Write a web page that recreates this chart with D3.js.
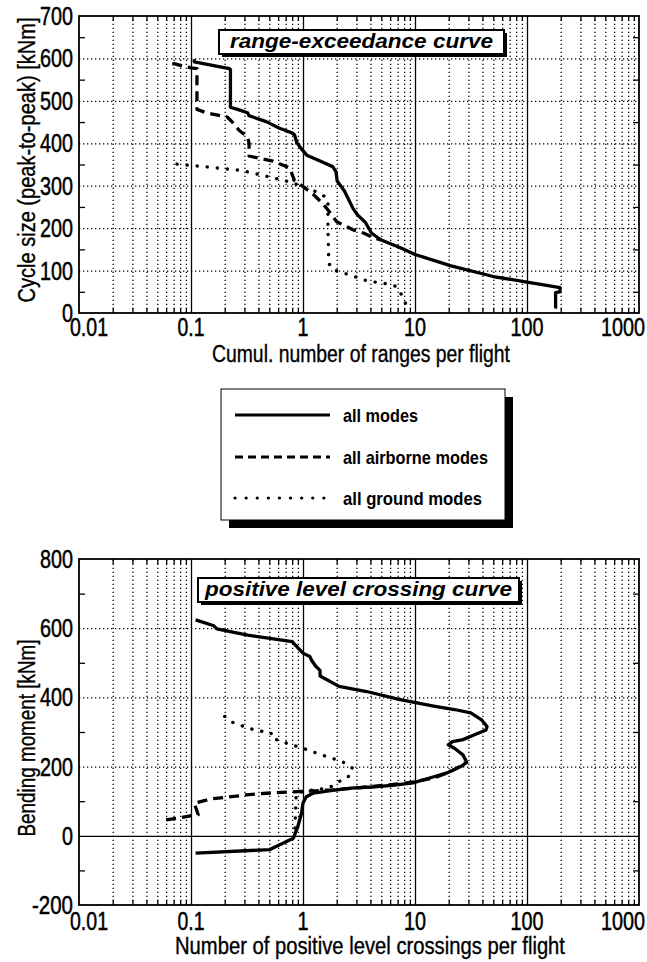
<!DOCTYPE html>
<html><head><meta charset="utf-8">
<script src="https://cdn.jsdelivr.net/npm/d3@7"></script>
<style>body{margin:0;background:#fff} text{font-family:"Liberation Sans",Arial,Helvetica,sans-serif;fill:#000}</style>
</head><body><svg id="c" width="647" height="962" style="background:#fff"></svg>
<script>
// ---------- data ----------
const xTicks = [0.01, 0.1, 1, 10, 100, 1000];
const xTickLabels = ["0.01", "0.1", "1", "10", "100", "1000"];
const topYTicks = [0, 100, 200, 300, 400, 500, 600, 700];
const botYTicks = [-200, 0, 200, 400, 600, 800];
const seriesNames = ["all modes", "all airborne modes", "all ground modes"];

// range-exceedance curve: [cumulative ranges per flight, cycle size kNm]
const rangeAll = [[0.107,598],[0.107,592],[0.22,576],[0.225,574],[0.225,485],[0.26,480],[0.32,472],[0.33,465],[0.47,451],[0.61,436],[0.79,425],[0.84,420],[0.88,402],[0.96,388],[1.08,372],[1.42,358],[1.84,345],[1.97,333],[2.02,311],[2.35,287],[2.8,246],[3.1,230],[3.6,214],[4.1,188],[5.0,172],[7.5,153],[10,138],[21,111],[50,86],[100,73],[150,65],[197,60],[197,50],[180,48],[180,14],[186,14]];
const rangeAir = [[0.068,588],[0.072,587],[0.09,580],[0.1,578],[0.113,576],[0.113,480],[0.14,471],[0.21,462],[0.23,452],[0.27,430],[0.32,415],[0.33,400],[0.33,370],[0.4,365],[0.54,358],[0.76,342],[0.84,312],[1.0,298],[1.2,283],[1.5,258],[1.75,236],[2.0,215],[2.8,196],[3.5,188],[4.2,178],[5.0,172]];
const rangeGround = [[0.075,351],[0.143,344],[0.28,336],[0.41,326],[0.64,314],[0.84,306],[0.94,298],[1.2,290],[1.5,278],[1.67,268],[1.67,198],[1.7,118],[1.8,104],[2.1,97],[2.6,90],[3.8,75],[5.3,70],[6.7,63],[7.5,45],[8.5,15]];

// positive level crossing curve: [crossings per flight, bending moment kNm]
const lcAll = [[0.11,624],[0.16,607],[0.17,598],[0.32,580],[0.49,571],[0.8,561],[0.92,540],[1.0,528],[1.15,518],[1.2,506],[1.3,490],[1.42,478],[1.42,462],[2.1,432],[3.7,417],[7.2,394],[10.4,384],[14.7,375],[22.5,365],[31.5,355],[39,336],[44,316],[43,306],[34,292],[26.8,278],[21.6,272],[19.8,263],[22.5,253],[26.8,234],[29,212],[25.6,200],[19,181],[13.5,167],[9.6,153],[6.3,146],[4.1,141],[2.7,138],[1.7,130],[1.23,123],[1.07,113],[1.0,95],[0.97,66],[0.9,27],[0.82,-7],[0.5,-40],[0.11,-50]];
const lcAir = [[0.06,46],[0.116,61],[0.107,94],[0.147,106],[0.31,118],[0.47,123],[0.94,128],[1.86,133],[3.7,141],[7.3,150],[10,156],[15,168],[20,183],[25,200],[28,212]];
const lcGround = [[0.2,345],[0.24,326],[0.36,307],[0.52,297],[0.52,283],[0.79,263],[1.0,253],[1.46,234],[2.26,214],[2.78,195],[2.5,167],[2.1,157],[1.74,140],[1.32,133],[1.07,130],[0.87,123],[0.86,80],[0.85,30],[0.84,-5]];

// ---------- drawing ----------
const svg = d3.select("#c");
const styles = [
  {dash: null, cap: "butt"},
  {dash: "10,6", cap: "butt"},
  {dash: "0.1,10", cap: "round"}
];

function txt(g, str, x, y, size, w, anchor, opts = {}) {
  const t = g.append("text").attr("x", x).attr("y", y).attr("font-size", size)
    .attr("text-anchor", anchor || "start").text(str);
  if (w) t.attr("textLength", w).attr("lengthAdjust", "spacingAndGlyphs");
  if (opts.bold) t.attr("font-weight", "bold");
  if (opts.italic) t.attr("font-style", "italic");
  if (opts.stroke) t.attr("stroke", "#000").attr("stroke-width", opts.stroke);
  if (opts.rotate) t.attr("transform", `rotate(-90,${x},${y})`);
  return t;
}
function numW(s) { let w = 0; for (const c of s) w += (c === "." ? 5 : c === "-" ? 8 : 11); return w; }

function chart(cfg) {
  const L = 79, R = 639;
  const x = d3.scaleLog().domain([0.01, 1000]).range([L, R]);
  const y = d3.scaleLinear().domain(cfg.yDomain).range([cfg.bottom, cfg.top]);
  const g = svg.append("g");
  const H = cfg.bottom - cfg.top;

  const minors = [];
  [0.01, 0.1, 1, 10, 100].forEach(d => { for (let k = 2; k <= 9; k++) minors.push(+(d * k).toPrecision(3)); });

  // minor vertical dotted grid
  g.append("g").attr("transform", `translate(0,${cfg.bottom})`)
    .call(d3.axisBottom(x).tickValues(minors).tickSize(-H).tickFormat(""))
    .call(a => a.select(".domain").remove())
    .call(a => a.selectAll("line").attr("stroke", "#000").attr("stroke-width", 1.3).attr("stroke-dasharray", "1.3,2.7"));
  // decade solid verticals
  g.append("g").attr("transform", `translate(0,${cfg.bottom})`)
    .call(d3.axisBottom(x).tickValues([0.1, 1, 10, 100]).tickSize(-H).tickFormat(""))
    .call(a => a.select(".domain").remove())
    .call(a => a.selectAll("line").attr("stroke", "#000").attr("stroke-width", 1.3));
  // horizontal dotted grid
  g.append("g").attr("transform", `translate(${L},0)`)
    .call(d3.axisLeft(y).tickValues(cfg.grid).tickSize(-(R - L)).tickFormat(""))
    .call(a => a.select(".domain").remove())
    .call(a => a.selectAll("line").attr("stroke", "#000").attr("stroke-width", 1.3).attr("stroke-dasharray", "1.3,2.7"));
  if (cfg.solidH) {
    g.append("g").attr("transform", `translate(${L},0)`)
      .call(d3.axisLeft(y).tickValues(cfg.solidH).tickSize(-(R - L)).tickFormat(""))
      .call(a => a.select(".domain").remove())
      .call(a => a.selectAll("line").attr("stroke", "#000").attr("stroke-width", 1.3));
  }
  // minor ticks inward
  const tk = a => a.call(s => s.select(".domain").remove()).call(s => s.selectAll("line").attr("stroke", "#000").attr("stroke-width", 1.3));
  g.append("g").attr("transform", `translate(0,${cfg.bottom})`).call(d3.axisBottom(x).tickValues(minors).tickSize(-5).tickFormat("")).call(tk);
  g.append("g").attr("transform", `translate(0,${cfg.top})`).call(d3.axisTop(x).tickValues(minors).tickSize(-5).tickFormat("")).call(tk);
  g.append("g").attr("transform", `translate(${L},0)`).call(d3.axisLeft(y).tickValues(cfg.minorY).tickSize(-6).tickFormat("")).call(tk);
  g.append("g").attr("transform", `translate(${R},0)`).call(d3.axisRight(y).tickValues(cfg.minorY).tickSize(-6).tickFormat("")).call(tk);

  // frame
  g.append("rect").attr("x", L).attr("y", cfg.top).attr("width", R - L).attr("height", H)
    .attr("fill", "none").attr("stroke", "#000").attr("stroke-width", 1.8);

  // tick labels
  xTicks.forEach((v, i) => {
    const s = xTickLabels[i];
    let dx = 0; if (i === 0) dx = 10; if (i === xTicks.length - 1) dx = -16;
    txt(g, s, x(v) + dx, cfg.xLabelY, 25, numW(s), "middle", {stroke: 0.5});
  });
  cfg.yTicks.forEach(v => {
    const s = String(v);
    txt(g, s, 73, y(v) + 9, 25, numW(s), "end", {stroke: 0.5});
  });

  // curves
  const line = d3.line().x(d => x(d[0])).y(d => y(d[1]));
  cfg.series.forEach((data, i) => {
    const p = g.append("path").datum(data).attr("d", line).attr("fill", "none")
      .attr("stroke", "#000").attr("stroke-width", i === 2 ? 3.4 : 3.3)
      .attr("stroke-linejoin", "round").attr("stroke-linecap", styles[i].cap);
    if (styles[i].dash) p.attr("stroke-dasharray", styles[i].dash);
  });

  // title box
  const b = cfg.box;
  g.append("rect").attr("x", b.x + 3).attr("y", b.y + 3).attr("width", b.w).attr("height", b.h).attr("fill", "#000");
  g.append("rect").attr("x", b.x).attr("y", b.y).attr("width", b.w).attr("height", b.h).attr("fill", "#fff").attr("stroke", "#000").attr("stroke-width", 2);
  txt(g, cfg.title, b.x + b.w / 2, b.y + b.h - 6, 21, b.tw, "middle", {bold: true, italic: true});

  // axis titles
  txt(g, cfg.xTitle, cfg.xTitleX, cfg.xTitleY, 23, cfg.xTitleW, "middle", {stroke: 0.35});
  txt(g, cfg.yTitle, 35, cfg.yTitleC, 23, cfg.yTitleW, "middle", {rotate: true, stroke: 0.35});
}

chart({
  yDomain: [0, 700], top: 16, bottom: 313,
  grid: [100, 200, 300, 400, 500, 600], minorY: [50, 150, 250, 350, 450, 550, 650],
  yTicks: topYTicks, xLabelY: 336,
  series: [rangeAll, rangeAir, rangeGround],
  box: {x: 219, y: 30, w: 285, h: 24, tw: 263},
  title: "range-exceedance curve",
  xTitle: "Cumul. number of ranges per flight", xTitleX: 361, xTitleY: 362, xTitleW: 298,
  yTitle: "Cycle size (peak-to-peak) [kNm]", yTitleC: 160, yTitleW: 285
});

chart({
  yDomain: [-200, 800], top: 559, bottom: 905,
  grid: [200, 400, 600], solidH: [0], minorY: [-100, 100, 300, 500, 700],
  yTicks: botYTicks, xLabelY: 930,
  series: [lcAll, lcAir, lcGround],
  box: {x: 198, y: 578, w: 321, h: 24, tw: 307},
  title: "positive level crossing curve",
  xTitle: "Number of positive level crossings per flight", xTitleX: 370, xTitleY: 954, xTitleW: 390,
  yTitle: "Bending moment [kNm]", yTitleC: 738, yTitleW: 197
});

// legend
const lg = svg.append("g");
lg.append("rect").attr("x", 229).attr("y", 397).attr("width", 284).attr("height", 131).attr("fill", "#000");
lg.append("rect").attr("x", 221).attr("y", 389).attr("width", 284).attr("height", 131).attr("fill", "#fff").attr("stroke", "#000").attr("stroke-width", 1);
const legY = [415, 457, 498];
const legW = [75, 145, 139];
seriesNames.forEach((n, i) => {
  const p = lg.append("line").attr("x1", 235).attr("x2", 330).attr("y1", legY[i]).attr("y2", legY[i])
    .attr("stroke", "#000").attr("stroke-width", 3.2).attr("stroke-linecap", styles[i].cap);
  if (i === 1) p.attr("stroke-dasharray", "8,5");
  if (i === 2) p.attr("stroke-dasharray", "0.1,11");
  txt(lg, n, 343, legY[i] + 7, 19, legW[i], "start", {bold: true});
});
</script></body></html>
